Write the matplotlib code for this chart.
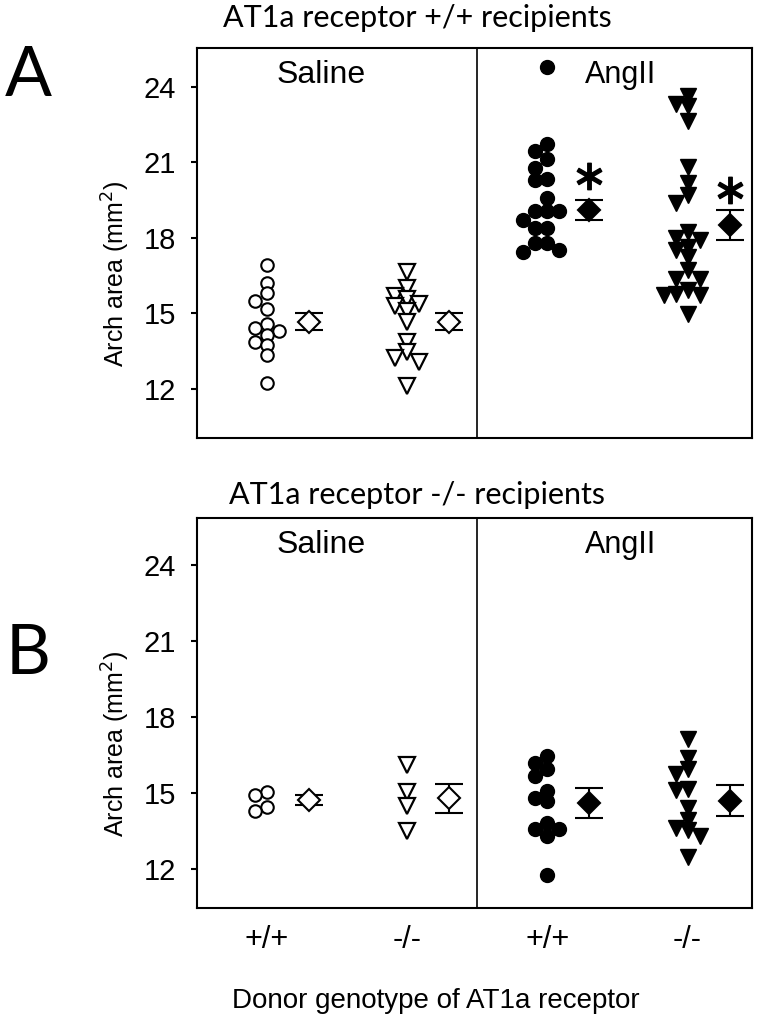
import numpy as np
import matplotlib.pyplot as plt

# x tick labels (donor genotype) for the four groups
groups = ['+/+', '-/-', '+/+', '-/-']

# panel A: AT1a +/+ recipients, arch area (mm2)
a_sal_wt = [16.92, 16.2, 15.8, 15.48, 15.16, 14.6, 14.44, 14.32, 14.16, 13.88, 13.76, 13.36, 12.24]
a_sal_ko = [16.65, 16.03, 15.68, 15.59, 15.39, 15.28, 15.09, 14.65, 13.85, 13.45, 13.23, 13.09, 12.12]
a_ang_wt = [24.8, 21.72, 21.45, 21.12, 20.79, 20.35, 20.32, 19.59, 19.08, 19.08, 19.08,
            18.72, 18.39, 18.39, 17.79, 17.79, 17.52, 17.45]
a_ang_ko = [23.65, 23.32, 23.25, 22.65, 20.83, 20.19, 19.72, 19.39, 18.25, 17.99, 17.92,
            17.65, 17.52, 17.25, 16.72, 16.35, 16.35, 15.95, 15.79, 15.72, 15.72, 14.99]
a_mean = [14.68, 14.68, 19.12, 18.52]
a_sem = [0.32, 0.32, 0.40, 0.60]
a_star = [None, None, 20.45, 19.92]

# panel B: AT1a -/- recipients
b_sal_wt = [15.04, 14.92, 14.44, 14.29]
b_sal_ko = [16.11, 15.05, 14.48, 13.49]
b_ang_wt = [16.47, 16.2, 15.94, 15.67, 15.08, 14.81, 14.68, 13.82, 13.56, 13.56, 13.3, 11.77]
b_ang_ko = [17.14, 16.4, 15.94, 15.74, 15.15, 15.1, 14.42, 13.92, 13.6, 13.52, 13.29, 12.46]
b_mean = [14.72, 14.79, 14.6, 14.7]
b_sem = [0.20, 0.58, 0.60, 0.62]

W, H = 764, 1032
xlim = (0.5, 4.46)
ylimA = (10.05, 25.55)
ylimB = (10.45, 25.87)
ax_w, ax_h = 555, 390
xpx = ax_w / (xlim[1] - xlim[0])
ypx = ax_h / (ylimA[1] - ylimA[0])


def swarm(vals, d=9.5, step=12):
    # simple beeswarm in pixel space, returns x offsets in data units
    placed = []
    offs = []
    for v in vals:
        for k in [0, -1, 1, -2, 2, -3, 3]:
            x = k * step
            if all((x - px) ** 2 + ((v - pv) * ypx) ** 2 >= d * d for px, pv in placed):
                break
        placed.append((x, v))
        offs.append(x / xpx)
    return np.array(offs)


plt.rcParams['font.family'] = ['Liberation Sans', 'DejaVu Sans']
fig = plt.figure(figsize=(W / 100, H / 100), dpi=100)
axA = fig.add_axes([197 / W, 1 - 438 / H, ax_w / W, ax_h / H])
axB = fig.add_axes([197 / W, 1 - 908 / H, ax_w / W, ax_h / H])

open_c = dict(marker='o', ms=9, mfc='white', mec='black', mew=1.5, ls='none')
open_t = dict(marker='v', ms=11, mfc='white', mec='black', mew=1.6, ls='none')
fill_c = dict(marker='o', ms=10, mfc='black', mec='black', mew=1, ls='none')
fill_t = dict(marker='v', ms=11, mfc='black', mec='black', mew=1, ls='none')
styles = [open_c, open_t, fill_c, fill_t]


def panel(ax, data, means, sems, stars, ylim):
    for i, vals in enumerate(data):
        x0 = i + 1
        ax.plot(x0 + swarm(vals), vals, **styles[i], zorder=3)
        face = 'white' if i < 2 else 'black'
        ax.errorbar(x0 + 0.3, means[i], yerr=sems[i], fmt='D', ms=11, mfc=face, mec='black',
                    mew=1.5, ecolor='black', elinewidth=1.5, capsize=10, capthick=1.5, zorder=4)
        if stars[i] is not None:
            ax.plot(x0 + 0.3, stars[i], marker='$\\ast$', ms=19, color='black', ls='none')
    ax.axvline(2.5, color='black', lw=1.2)
    ax.set_xlim(xlim)
    ax.set_ylim(ylim)
    ax.set_yticks([12, 15, 18, 21, 24])
    ax.set_xticks([1, 2, 3, 4])
    for s in ax.spines.values():
        s.set_linewidth(1.5)
    ax.tick_params(axis='y', length=4, width=1.5, pad=11, labelsize=21)
    ax.tick_params(axis='x', length=0, pad=12, labelsize=22)
    ax.set_ylabel('Arch area (mm$^2$)', fontsize=18)
    ax.yaxis.set_label_coords(-0.118, 0.42)
    ax.text(0.223, 0.93, 'Saline', transform=ax.transAxes, fontsize=23, ha='center', va='center')
    ax.text(0.764, 0.93, 'AngII', transform=ax.transAxes, fontsize=22, ha='center', va='center')


panel(axA, [a_sal_wt, a_sal_ko, a_ang_wt, a_ang_ko], a_mean, a_sem, a_star, ylimA)
panel(axB, [b_sal_wt, b_sal_ko, b_ang_wt, b_ang_ko], b_mean, b_sem, [None] * 4, ylimB)
axA.set_xticklabels([])
axB.set_xticklabels(groups)
axB.set_xlabel('Donor genotype of AT1a receptor', fontsize=20)
axB.xaxis.set_label_coords(0.43, -0.205)

fig.text(417 / W, 1 - 18 / H, 'AT1a receptor +/+ recipients', fontsize=22, ha='center', va='center', family='Lato')
fig.text(417 / W, 1 - 495 / H, 'AT1a receptor -/- recipients', fontsize=22, ha='center', va='center', family='Lato')
fig.text(28 / W, 1 - 76 / H, 'A', fontsize=50, ha='center', va='center', family='Lato')
fig.text(28 / W, 1 - 655 / H, 'B', fontsize=50, ha='center', va='center', family='Lato')

fig.savefig('out.png', dpi=100)
